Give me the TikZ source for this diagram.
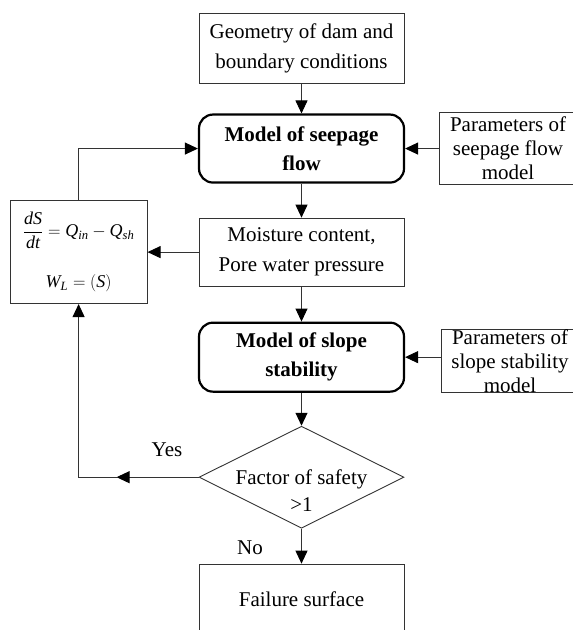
\documentclass[tikz,border=0pt]{standalone}
\usepackage{amsmath}
\usepackage{fontspec}
\setmainfont{Liberation Serif}
\usetikzlibrary{positioning,shapes.geometric,arrows.meta}

\begin{document}
\begin{tikzpicture}
[
x=1pt, y=-1pt,
box-a/.style={rectangle, draw=black!80, line width=0.9pt, minimum width=205pt, minimum height=70pt, align=center, inner sep=2pt, font=\fontsize{21}{30}\selectfont},
box-b/.style={box-a, draw=black, line width=2.2pt, rounded corners=14pt, font=\fontsize{21}{29}\selectfont\bfseries},
box-c/.style={box-a, minimum width=137pt, minimum height=72pt, inner sep=0pt, font=\fontsize{21}{24}\selectfont},
box-d/.style={box-a, minimum width=137pt, minimum height=103pt, font=\fontsize{18}{20}\selectfont},
dec-a/.style={diamond, draw=black!80, line width=0.9pt, minimum width=205pt, minimum height=102pt, inner sep=0pt},
text-a/.style={black, align=center, font=\fontsize{21}{27}\selectfont},
arr-a/.style={draw=black!80, line width=0.9pt, -{Triangle[length=13pt,width=12pt,color=black]}}
]
\clip (0,0) rectangle (573,630);
\node (geom)    [box-a] at (301.5,48)                {Geometry of dam and\\boundary conditions};
\node (seep)    [box-b, minimum height=68pt, below = 30pt of geom] {Model of seepage\\flow};
\node (par-s)   [box-c, right = 34pt of seep]        {Parameters of\\seepage flow\\model};
\node (moist)   [box-a, minimum height=68pt, below = 34pt of seep] {Moisture content,\\Pore water pressure};
\node (eq)      [box-d, left  = 51pt of moist]       {$\dfrac{\mathit{dS}}{\mathit{dt}}=\mathit{Q}_{\mathit{in}}-\mathit{Q}_{\mathit{sh}}$\\[25pt]$\mathit{W}_{\mathit{L}}=(\mathit{S})$};
\node (slope)   [box-b, minimum height=69pt, below = 35pt of moist] {Model of slope\\stability};
\node (par-sl)  [box-c, minimum height=62pt, right = 36pt of slope, yshift=-4pt] {Parameters of\\slope stability\\model};
\node (fos)     [dec-a, below = 33pt of slope]       {};
\node (fos-t)   [text-a, yshift=-13pt] at (fos)      {Factor of safety\\>1};
\node (fail)    [box-a, below = 35pt of fos]         {Failure surface};
\node (yes)     [text-a] at (167,450)                {Yes};
\node (no)      [text-a] at (250,548)                {No};
\path (fos.west) ++(-82,0) coordinate (yes-mid);

\draw[arr-a] (geom.south)  -- (seep.north);
\draw[arr-a] (par-s.west)  -- (seep.east);
\draw[arr-a] (seep.south)  -- (moist.north);
\draw[arr-a] (moist.west)  -- (eq.east);
\draw[arr-a] (eq.north)    |- (seep.west);
\draw[arr-a] (moist.south) -- (slope.north);
\draw[arr-a] (par-sl.west |- slope.east) -- (slope.east);
\draw[arr-a] (slope.south) -- (fos.north);
\draw[arr-a] (fos.west)    -- (yes-mid);
\draw[arr-a] (yes-mid)     -| (eq.south);
\draw[arr-a] (fos.south)   -- (fail.north);
\end{tikzpicture}
\end{document}
